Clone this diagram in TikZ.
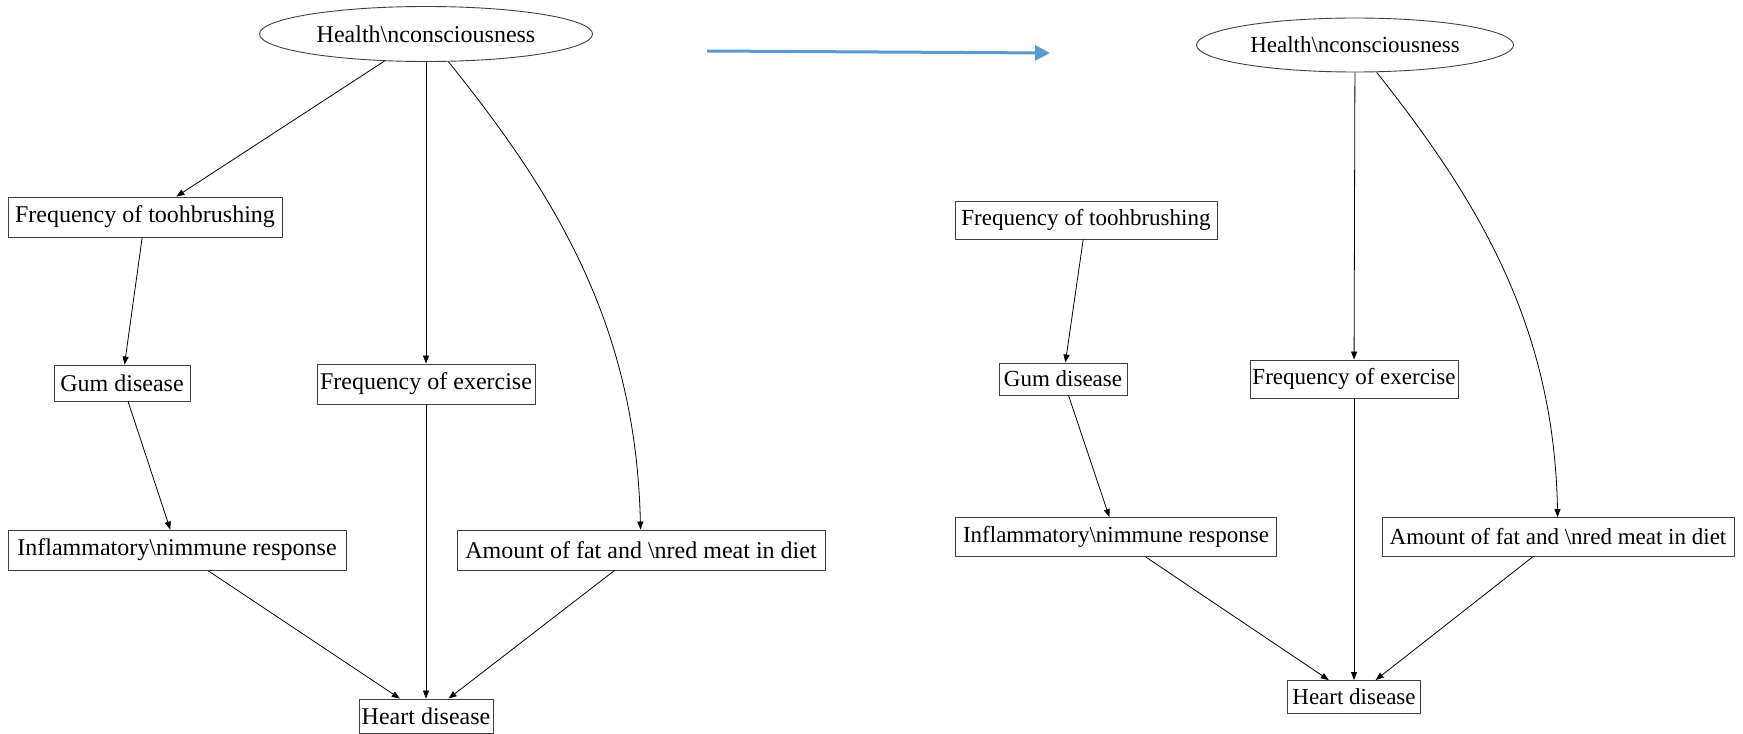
\documentclass[tikz,border=0pt]{standalone}
\usepackage{fontspec}
\setmainfont{Liberation Serif}
\usetikzlibrary{shapes.geometric,arrows.meta}
\definecolor{bluearrow}{RGB}{91,155,213}
\begin{document}
\begin{tikzpicture}[x=0.5pt,y=-0.5pt,
  box/.style={draw=black!75, line width=0.45pt, rectangle, inner sep=0pt, align=center},
  oval/.style={draw=black!75, line width=0.45pt, ellipse, inner sep=0pt},
  lft/.style={font=\fontsize{12}{14}\selectfont},
  rgt/.style={font=\fontsize{11.5}{13.5}\selectfont},
  conn/.style={line width=0.4pt, -{Triangle[length=4pt,width=3pt]}},
  bigarrow/.style={draw=bluearrow, line width=1.5pt, -{Triangle[length=7.5pt,width=7.5pt]}}]
\useasboundingbox (0,0) rectangle (1743,733);

% ---------- left graph ----------
\node[oval,lft,minimum width=166.5pt,minimum height=27.5pt] (hc1) at (426,34) {Health\textbackslash nconsciousness};
\node[box,lft,minimum width=137pt,minimum height=20pt] (tb1) at (145,217) {Frequency of toohbrushing};
\node[box,lft,minimum width=68pt,minimum height=18pt] (gum1) at (122,383) {Gum disease};
\node[box,lft,minimum width=109pt,minimum height=20pt] (ex1) at (426,384) {Frequency of exercise};
\node[box,lft,minimum width=169pt,minimum height=20pt] (inf1) at (177,550) {Inflammatory\textbackslash nimmune response};
\node[box,lft,minimum width=184pt,minimum height=20pt] (amt1) at (641,550) {Amount of fat and \textbackslash nred meat in diet};
\node[box,lft,minimum width=67pt,minimum height=17pt] (hd1) at (426,716) {Heart disease};

\draw[conn] (hc1) -- (tb1);
\draw[conn] (hc1) -- (ex1);
\draw[conn] (hc1) .. controls (560,200) and (636,330) .. (amt1);
\draw[conn] (tb1) -- (gum1);
\draw[conn] (gum1) -- (inf1);
\draw[conn] (ex1) -- (hd1);
\draw[conn] (inf1) -- (hd1);
\draw[conn] (amt1) -- (hd1);

% ---------- blue arrow ----------
\coordinate (ba) at (707,51);
\coordinate (bb) at (1050,53);
\draw[bigarrow] (ba) -- (bb);

% ---------- right graph ----------
\node[oval,rgt,minimum width=158.5pt,minimum height=27pt] (hc2) at (1355,45) {Health\textbackslash nconsciousness};
\node[box,rgt,minimum width=131pt,minimum height=19pt] (tb2) at (1086,220) {Frequency of toohbrushing};
\node[box,rgt,minimum width=64pt,minimum height=16pt] (gum2) at (1063,379) {Gum disease};
\node[box,rgt,minimum width=104pt,minimum height=19pt] (ex2) at (1354,379) {Frequency of exercise};
\node[box,rgt,minimum width=160.5pt,minimum height=19.5pt] (inf2) at (1116,537) {Inflammatory\textbackslash nimmune response};
\node[box,rgt,minimum width=176pt,minimum height=19.5pt] (amt2) at (1558,537) {Amount of fat and \textbackslash nred meat in diet};
\node[box,rgt,minimum width=66.5pt,minimum height=16.5pt] (hd2) at (1354,697) {Heart disease};

\draw[conn] (hc2) -- (ex2);
\draw[conn] (hc2) .. controls (1481,204) and (1554,328) .. (amt2);
\draw[conn] (tb2) -- (gum2);
\draw[conn] (gum2) -- (inf2);
\draw[conn] (ex2) -- (hd2);
\draw[conn] (inf2) -- (hd2);
\draw[conn] (amt2) -- (hd2);
\end{tikzpicture}
\end{document}
